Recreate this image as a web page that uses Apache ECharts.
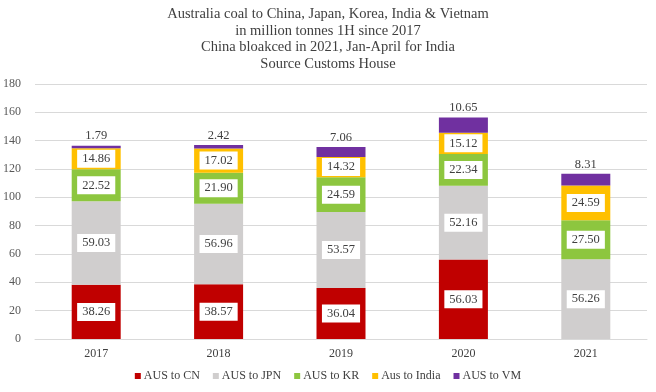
<!DOCTYPE html>
<html><head><meta charset="utf-8">
<script src="https://cdn.jsdelivr.net/npm/echarts@6/dist/echarts.min.js"></script>
<style>html,body{margin:0;padding:0;background:#fff}#c{width:656px;height:392px}</style>
</head><body><div id="c"></div>
<script>
var categories = ['2017', '2018', '2019', '2020', '2021'];
var seriesNames = ['AUS to CN', 'AUS to JPN', 'AUS to KR', 'Aus to India', 'AUS to VM'];
var cn = [38.26, 38.57, 36.04, 56.03, 0];
var jpn = [59.03, 56.96, 53.57, 52.16, 56.26];
var kr = [22.52, 21.90, 24.59, 22.34, 27.50];
var india = [14.86, 17.02, 14.32, 15.12, 24.59];
var vm = [1.79, 2.42, 7.06, 10.65, 8.31];
var yTicks = [0, 20, 40, 60, 80, 100, 120, 140, 160, 180];
var titleLines = ['Australia coal to China, Japan, Korea, India & Vietnam', 'in million tonnes 1H since 2017', 'China bloakced in 2021, Jan-April for India', 'Source Customs House'];

var colors = ['#c00000', '#d0cece', '#8dc63f', '#ffc000', '#7030a0'];
var font = '"Liberation Serif", "Times New Roman", serif';
var data = [cn, jpn, kr, india, vm];
function fmt(p) { return p.value ? p.value.toFixed(2) : ''; }
var series = data.map(function (d, i) {
  var top = i === data.length - 1;
  return {
    name: seriesNames[i], type: 'bar', stack: 'total', barWidth: 49,
    data: d.map(function (v) { return v ? v : { value: v, label: { show: false } }; }),
    itemStyle: { color: colors[i] },
    label: top ? {
      show: true, position: 'top', formatter: fmt, fontFamily: font, fontSize: 12.5, color: '#404040', distance: 3
    } : {
      show: true, position: 'inside', formatter: fmt, fontFamily: font, fontSize: 12.5, color: '#404040',
      backgroundColor: '#fff', padding: [3, 5, 2, 5]
    }
  };
});
var chart = echarts.init(document.getElementById('c'));
chart.setOption({
  animation: false,
  textStyle: { fontFamily: font },
  title: {
    text: titleLines.join('\n'), left: 'center', top: 1,
    textStyle: { fontFamily: font, fontSize: 14.5, fontWeight: 'normal', color: '#404040', lineHeight: 16.5 }
  },
  legend: {
    data: seriesNames, bottom: 5, left: 'center', itemWidth: 6, itemHeight: 6, itemGap: 13,
    icon: 'rect', textStyle: { fontFamily: font, fontSize: 12, color: '#404040', padding: [0, 0, 0, -2] }
  },
  grid: { left: 33.6, right: 9, top: 84, bottom: 53, containLabel: false },
  xAxis: {
    type: 'category', data: categories,
    axisLine: { lineStyle: { color: '#d9d9d9' } }, axisTick: { show: false },
    axisLabel: { fontFamily: font, fontSize: 12, color: '#404040', margin: 9 }
  },
  yAxis: {
    type: 'value', min: yTicks[0], max: yTicks[yTicks.length - 1], interval: 20,
    axisLine: { show: false }, axisTick: { show: false },
    splitLine: { lineStyle: { color: '#d9d9d9' } },
    axisLabel: { fontFamily: font, fontSize: 12, color: '#595959', margin: 14 }
  },
  series: series
});
</script></body></html>
